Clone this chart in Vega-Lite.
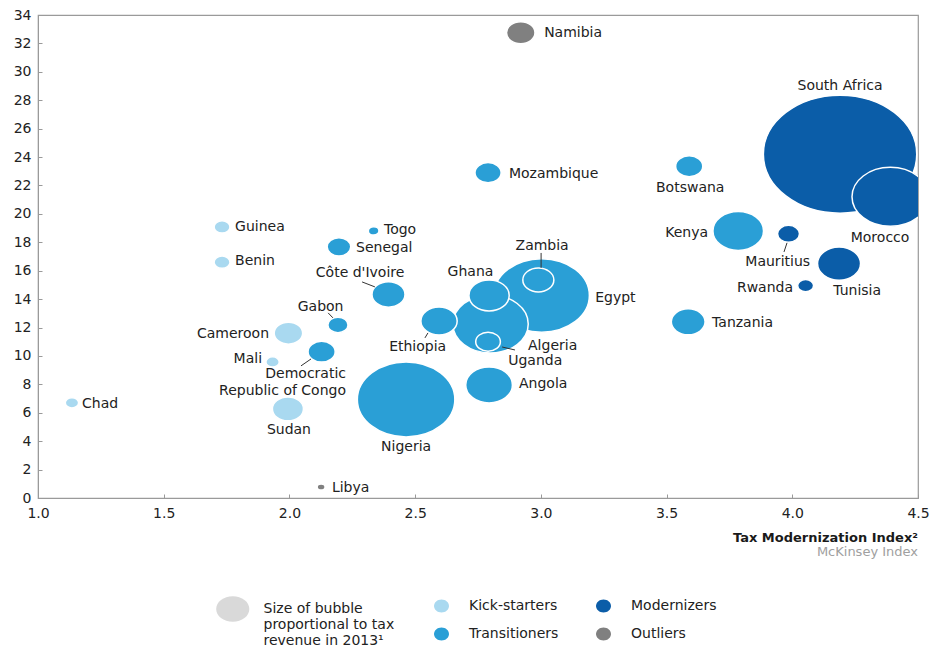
{
  "$schema": "https://vega.github.io/schema/vega-lite/v6.json",
  "width": 880,
  "height": 483,
  "autosize": {"type": "none"},
  "padding": {"left": 38, "top": 15, "right": 12, "bottom": 151},
  "background": "white",
  "config": {
    "font": "DejaVu Sans",
    "view": {"stroke": "#9a9a9a", "strokeWidth": 1.2}
  },
  "title": {
    "text": "Tax Modernization Index²",
    "subtitle": "McKinsey Index",
    "orient": "bottom",
    "anchor": "end",
    "frame": "group",
    "fontSize": 13,
    "fontWeight": "bold",
    "color": "#1a1a1a",
    "subtitleFontSize": 13,
    "subtitleColor": "#a0a0a0",
    "offset": -116,
    "subtitlePadding": 1
  },
  "datasets": {
    "points": [
      {"country": "Namibia", "group": "Outliers", "tmi": 2.92, "tax": 32.75, "revenue": 3.2},
      {"country": "South Africa", "group": "Modernizers", "tmi": 4.19, "tax": 24.2, "revenue": 92.8},
      {"country": "Morocco", "group": "Modernizers", "tmi": 4.39, "tax": 21.2, "revenue": 23.2},
      {"country": "Botswana", "group": "Transitioners", "tmi": 3.59, "tax": 23.35, "revenue": 2.9},
      {"country": "Mozambique", "group": "Transitioners", "tmi": 2.79, "tax": 22.9, "revenue": 2.7},
      {"country": "Kenya", "group": "Transitioners", "tmi": 3.785, "tax": 18.8, "revenue": 10.1},
      {"country": "Mauritius", "group": "Modernizers", "tmi": 3.985, "tax": 18.6, "revenue": 1.9},
      {"country": "Tunisia", "group": "Modernizers", "tmi": 4.186, "tax": 16.5, "revenue": 7.3},
      {"country": "Rwanda", "group": "Modernizers", "tmi": 4.053, "tax": 14.95, "revenue": 1.0},
      {"country": "Tanzania", "group": "Transitioners", "tmi": 3.586, "tax": 12.4, "revenue": 4.5},
      {"country": "Egypt", "group": "Transitioners", "tmi": 3.003, "tax": 14.26, "revenue": 36.0},
      {"country": "Zambia", "group": "Transitioners", "tmi": 2.99, "tax": 15.35, "revenue": 3.8},
      {"country": "Ghana", "group": "Transitioners", "tmi": 2.794, "tax": 14.26, "revenue": 6.4},
      {"country": "Algeria", "group": "Transitioners", "tmi": 2.8, "tax": 12.25, "revenue": 22.4},
      {"country": "Ethiopia", "group": "Transitioners", "tmi": 2.595, "tax": 12.46, "revenue": 5.2},
      {"country": "Uganda", "group": "Transitioners", "tmi": 2.79, "tax": 11.0, "revenue": 2.4},
      {"country": "Angola", "group": "Transitioners", "tmi": 2.794, "tax": 7.96, "revenue": 8.6},
      {"country": "Nigeria", "group": "Transitioners", "tmi": 2.464, "tax": 6.94, "revenue": 37.5},
      {"country": "Côte d'Ivoire", "group": "Transitioners", "tmi": 2.394, "tax": 14.33, "revenue": 4.3},
      {"country": "Togo", "group": "Transitioners", "tmi": 2.335, "tax": 18.8, "revenue": 0.45},
      {"country": "Senegal", "group": "Transitioners", "tmi": 2.197, "tax": 17.68, "revenue": 2.2},
      {"country": "Gabon", "group": "Transitioners", "tmi": 2.193, "tax": 12.18, "revenue": 1.6},
      {"country": "Democratic Republic of Congo", "group": "Transitioners", "tmi": 2.128, "tax": 10.3, "revenue": 2.9},
      {"country": "Guinea", "group": "Kick-starters", "tmi": 1.732, "tax": 19.08, "revenue": 1.0},
      {"country": "Benin", "group": "Kick-starters", "tmi": 1.732, "tax": 16.6, "revenue": 1.0},
      {"country": "Cameroon", "group": "Kick-starters", "tmi": 1.996, "tax": 11.6, "revenue": 3.2},
      {"country": "Mali", "group": "Kick-starters", "tmi": 1.933, "tax": 9.58, "revenue": 0.7},
      {"country": "Chad", "group": "Kick-starters", "tmi": 1.135, "tax": 6.7, "revenue": 0.7},
      {"country": "Sudan", "group": "Kick-starters", "tmi": 1.994, "tax": 6.27, "revenue": 3.8},
      {"country": "Libya", "group": "Outliers", "tmi": 2.126, "tax": 0.77, "revenue": 0.25}
    ],
    "labels": [
      {"label": "Namibia", "anchor": "left", "tmi": 3.013, "tax": 32.75},
      {"label": "Mozambique", "anchor": "left", "tmi": 2.873, "tax": 22.8},
      {"label": "Tanzania", "anchor": "left", "tmi": 3.681, "tax": 12.3},
      {"label": "Egypt", "anchor": "left", "tmi": 3.216, "tax": 14.05},
      {"label": "Algeria", "anchor": "left", "tmi": 2.949, "tax": 10.7},
      {"label": "Uganda", "anchor": "left", "tmi": 2.87, "tax": 9.65},
      {"label": "Angola", "anchor": "left", "tmi": 2.913, "tax": 8.0},
      {"label": "Togo", "anchor": "left", "tmi": 2.376, "tax": 18.85},
      {"label": "Senegal", "anchor": "left", "tmi": 2.265, "tax": 17.6},
      {"label": "Chad", "anchor": "left", "tmi": 1.175, "tax": 6.62},
      {"label": "Guinea", "anchor": "left", "tmi": 1.784, "tax": 19.1},
      {"label": "Benin", "anchor": "left", "tmi": 1.784, "tax": 16.7},
      {"label": "Libya", "anchor": "left", "tmi": 2.169, "tax": 0.72},
      {"label": "Kenya", "anchor": "right", "tmi": 3.665, "tax": 18.66},
      {"label": "Rwanda", "anchor": "right", "tmi": 4.003, "tax": 14.8},
      {"label": "Cameroon", "anchor": "right", "tmi": 1.919, "tax": 11.55},
      {"label": "Mali", "anchor": "right", "tmi": 1.891, "tax": 9.8},
      {"label": "Democratic\nRepublic of Congo", "anchor": "right", "tmi": 2.225, "tax": 8.73},
      {"label": "South Africa", "anchor": "center", "tmi": 4.19, "tax": 29.0},
      {"label": "Botswana", "anchor": "center", "tmi": 3.594, "tax": 21.8},
      {"label": "Morocco", "anchor": "center", "tmi": 4.349, "tax": 18.3},
      {"label": "Mauritius", "anchor": "center", "tmi": 3.942, "tax": 16.6},
      {"label": "Tunisia", "anchor": "center", "tmi": 4.258, "tax": 14.58},
      {"label": "Zambia", "anchor": "center", "tmi": 3.005, "tax": 17.75},
      {"label": "Ghana", "anchor": "center", "tmi": 2.72, "tax": 15.9},
      {"label": "Ethiopia", "anchor": "center", "tmi": 2.51, "tax": 10.63},
      {"label": "Nigeria", "anchor": "center", "tmi": 2.464, "tax": 3.6},
      {"label": "Côte d'Ivoire", "anchor": "center", "tmi": 2.281, "tax": 15.85},
      {"label": "Gabon", "anchor": "center", "tmi": 2.124, "tax": 13.45},
      {"label": "Sudan", "anchor": "center", "tmi": 1.998, "tax": 4.79}
    ],
    "leaders": [
      {"country": "Zambia", "tmi": 3.001, "tax": 17.25, "tmi2": 3.001, "tax2": 16.2},
      {"country": "Côte d'Ivoire", "tmi": 2.289, "tax": 15.21, "tmi2": 2.34, "tax2": 14.86},
      {"country": "Gabon", "tmi": 2.154, "tax": 13.03, "tmi2": 2.173, "tax2": 12.68},
      {"country": "Democratic Republic of Congo", "tmi": 2.046, "tax": 9.3, "tmi2": 2.086, "tax2": 9.79},
      {"country": "Ethiopia", "tmi": 2.539, "tax": 11.27, "tmi2": 2.551, "tax2": 11.62},
      {"country": "Uganda", "tmi": 2.846, "tax": 10.63, "tmi2": 2.897, "tax2": 10.42},
      {"country": "Mauritius", "tmi": 3.979, "tax": 17.96, "tmi2": 3.967, "tax2": 17.32}
    ]
  },
  "encoding": {
    "x": {
      "field": "tmi", "type": "quantitative", "title": null,
      "scale": {"domain": [1, 4.5], "nice": false, "zero": false},
      "axis": {
        "values": [1, 1.5, 2, 2.5, 3, 3.5, 4, 4.5], "format": ".1f",
        "grid": false, "tickSize": -4, "labelPadding": 12, "labelFontSize": 14,
        "labelColor": "#222", "domainColor": "#9a9a9a", "tickColor": "#9a9a9a",
        "labelFlush": false, "labelOverlap": false
      }
    },
    "y": {
      "field": "tax", "type": "quantitative", "title": null,
      "scale": {"domain": [0, 34], "nice": false},
      "axis": {
        "values": [0, 2, 4, 6, 8, 10, 12, 14, 16, 18, 20, 22, 24, 26, 28, 30, 32, 34],
        "grid": false, "tickSize": -4, "labelPadding": 11, "labelFontSize": 14,
        "labelColor": "#222", "domainColor": "#9a9a9a", "tickColor": "#9a9a9a",
        "labelOverlap": false, "labelFlush": false
      }
    }
  },
  "layer": [
    {
      "data": {"name": "points"},
      "mark": {"type": "point", "filled": true, "opacity": 1, "stroke": "white", "strokeWidth": 1.5, "clip": true},
      "encoding": {
        "size": {
          "field": "revenue", "type": "quantitative",
          "scale": {"type": "linear", "domain": [0, 100], "range": [0, 15000], "zero": true},
          "legend": null
        },
        "color": {
          "field": "group", "type": "nominal",
          "scale": {
            "domain": ["Kick-starters", "Transitioners", "Modernizers", "Outliers"],
            "range": ["#a9d9f0", "#2a9fd6", "#0b5da8", "#808080"]
          },
          "legend": {
            "orient": "none", "legendX": 396.5, "legendY": 584, "columns": 2, "title": null,
            "symbolType": "M -1.15 0 A 1.15 1 0 1 0 1.15 0 A 1.15 1 0 1 0 -1.15 0 Z",
            "symbolSize": 169, "symbolStrokeWidth": 0, "labelFontSize": 14, "labelColor": "#222",
            "labelOffset": 20.5, "rowPadding": 14, "columnPadding": 37, "padding": 0, "gridAlign": "all"
          }
        },
        "shape": {
          "datum": "Size of bubble|proportional to tax|revenue in 2013¹",
          "scale": {"range": ["M -1.3 0 A 1.3 1 0 1 0 1.3 0 A 1.3 1 0 1 0 -1.3 0 Z"]},
          "legend": {
            "orient": "none", "legendX": 181.75, "legendY": 581, "title": null,
            "symbolSize": 650, "symbolStrokeWidth": 0, "symbolFillColor": "#d9d9d9",
            "labelExpr": "split(datum.label, '|')", "labelFontSize": 14, "labelColor": "#222",
            "labelOffset": 17.75, "labelLimit": 0, "padding": 0,
            "encode": {
              "symbols": {"update": {"fill": {"value": "#d9d9d9"}, "stroke": {"value": "transparent"}, "opacity": {"value": 1}}}
            }
          }
        },
        "order": {"field": "revenue", "sort": "descending"}
      }
    },
    {
      "data": {"name": "leaders"},
      "mark": {"type": "rule", "color": "#333", "strokeWidth": 1},
      "encoding": {
        "x2": {"field": "tmi2"},
        "y2": {"field": "tax2"}
      }
    },
    {
      "data": {"name": "labels"},
      "transform": [{"filter": "datum.anchor === 'left'"}],
      "mark": {"type": "text", "align": "left", "baseline": "middle", "fontSize": 14, "color": "#222", "lineBreak": "\n"},
      "encoding": {
        "text": {"field": "label"}
      }
    },
    {
      "data": {"name": "labels"},
      "transform": [{"filter": "datum.anchor === 'right'"}],
      "mark": {"type": "text", "align": "right", "baseline": "middle", "fontSize": 14, "color": "#222", "lineBreak": "\n", "lineHeight": 17},
      "encoding": {
        "text": {"field": "label"}
      }
    },
    {
      "data": {"name": "labels"},
      "transform": [{"filter": "datum.anchor === 'center'"}],
      "mark": {"type": "text", "align": "center", "baseline": "middle", "fontSize": 14, "color": "#222", "lineBreak": "\n"},
      "encoding": {
        "text": {"field": "label"}
      }
    }
  ]
}
